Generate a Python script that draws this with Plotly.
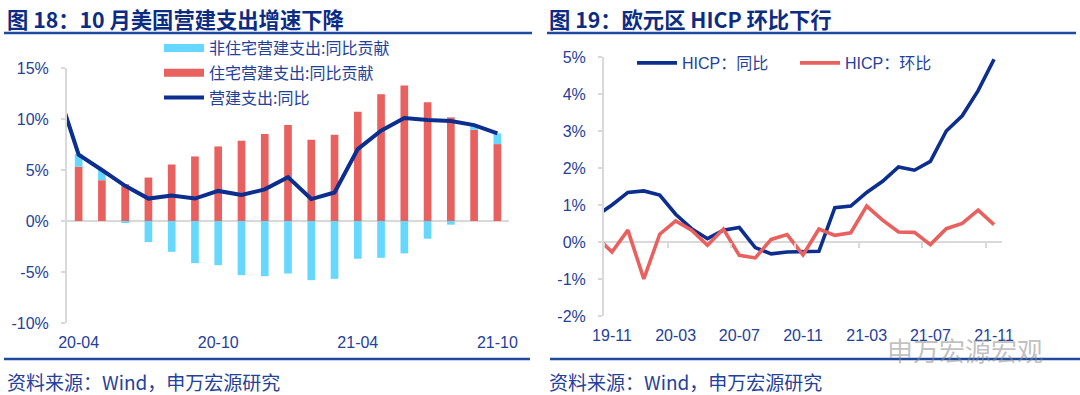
import plotly.graph_objects as go

W, H = 1080, 395

# ---------------- Left chart data (figure 18) ----------------
months_l = ["20-03", "20-04", "20-05", "20-06", "20-07", "20-08", "20-09", "20-10",
            "20-11", "20-12", "21-01", "21-02", "21-03", "21-04", "21-05", "21-06",
            "21-07", "21-08", "21-09", "21-10"]
bar_months = months_l[1:]
nonres_contrib = [1.25, 1.0, -0.15, -2.07, -3.02, -4.13, -4.33, -5.31, -5.41, -5.15,
                  -5.80, -5.67, -3.70, -3.61, -3.18, -1.74, -0.36, 0.40, 1.05]
res_contrib = [5.31, 4.0, 3.6, 4.26, 5.54, 6.33, 7.31, 7.87, 8.52, 9.41,
               7.97, 8.46, 10.72, 12.43, 13.28, 11.64, 10.16, 8.95, 7.54]
total_yoy = [13.5, 6.5, 5.0, 3.45, 2.2, 2.5, 2.2, 2.95, 2.55, 3.1,
             4.3, 2.15, 2.8, 7.05, 8.85, 10.1, 9.9, 9.8, 9.4, 8.6]
yticks_l = [-10, -5, 0, 5, 10, 15]

# ---------------- Right chart data (figure 19) ----------------
months_r = ["19-10", "19-11", "19-12", "20-01", "20-02", "20-03", "20-04", "20-05",
            "20-06", "20-07", "20-08", "20-09", "20-10", "20-11", "20-12", "21-01",
            "21-02", "21-03", "21-04", "21-05", "21-06", "21-07", "21-08", "21-09",
            "21-10", "21-11"]
hicp_yoy = [0.7, 1.0, 1.34, 1.38, 1.27, 0.75, 0.36, 0.09, 0.32, 0.39, -0.15, -0.32,
            -0.27, -0.27, -0.25, 0.93, 0.97, 1.34, 1.64, 2.03, 1.94, 2.18, 3.0, 3.41,
            4.09, 4.94]
hicp_mom = [0.15, -0.27, 0.32, -1.0, 0.21, 0.57, 0.32, -0.09, 0.35, -0.36, -0.43, 0.07,
            0.2, -0.35, 0.35, 0.18, 0.25, 0.97, 0.59, 0.27, 0.26, -0.07, 0.36, 0.5,
            0.86, 0.47]
yticks_r = [-2, -1, 0, 1, 2, 3, 4, 5]

# ---------------- styling ----------------
CYAN = "#66D8FF"
RED = "#E8615F"
NAVY = "#0B2E8F"
LABEL = "#24409A"
TITLE = "#0C2C84"
RULE = "#1E4AA0"
GRID = "#D9D9D9"
FONT = "'Liberation Sans', 'Noto Sans CJK SC', sans-serif"
CJK = "'Noto Sans CJK SC', sans-serif"


def px_x(v):
    return v / W


def px_y(v):
    return 1 - v / H


fig = go.Figure()

# legend proxies (wide swatches)
fig.add_trace(go.Scatter(x=[None], y=[None], mode="lines", name="非住宅营建支出:同比贡献",
                         line=dict(color=CYAN, width=8), legendgroup="a", hoverinfo="skip"))
fig.add_trace(go.Scatter(x=[None], y=[None], mode="lines", name="住宅营建支出:同比贡献",
                         line=dict(color=RED, width=8), legendgroup="b", hoverinfo="skip"))
# bars (residential first so it sits at the base of the stack)
fig.add_trace(go.Bar(x=bar_months, y=res_contrib, name="住宅营建支出:同比贡献",
                     marker=dict(color=RED, line=dict(width=0)), showlegend=False,
                     legendgroup="b", xaxis="x", yaxis="y"))
fig.add_trace(go.Bar(x=bar_months, y=nonres_contrib, name="非住宅营建支出:同比贡献",
                     marker=dict(color=CYAN, line=dict(width=0)), showlegend=False,
                     legendgroup="a", xaxis="x", yaxis="y"))
fig.add_trace(go.Scatter(x=months_l, y=total_yoy, mode="lines", name="营建支出:同比",
                         line=dict(color=NAVY, width=4), legendgroup="c",
                         xaxis="x", yaxis="y"))

# right chart lines
fig.add_trace(go.Scatter(x=months_r, y=hicp_yoy, mode="lines", name="HICP：同比",
                         line=dict(color=NAVY, width=3.6), legend="legend2",
                         xaxis="x2", yaxis="y2"))
fig.add_trace(go.Scatter(x=months_r, y=hicp_mom, mode="lines", name="HICP：环比",
                         line=dict(color=RED, width=3.6), legend="legend2",
                         xaxis="x3", yaxis="y2"))

tickfont = dict(family=FONT, size=16, color=LABEL)

yl_dom = [px_y(323), px_y(68)]
yr_dom = [px_y(316), px_y(57)]
zero_pos_r = yr_dom[0] + (yr_dom[1] - yr_dom[0]) * (0 - yticks_r[0]) / (yticks_r[-1] - yticks_r[0])

fig.update_layout(
    width=W, height=H,
    margin=dict(l=0, r=0, t=0, b=0, autoexpand=False),
    paper_bgcolor="white", plot_bgcolor="white",
    barmode="relative", bargap=0.67,
    font=dict(family=FONT, color=LABEL),
    xaxis=dict(domain=[px_x(67), px_x(509)], type="category", categoryorder="array",
               categoryarray=months_l, range=[0.5, len(months_l) - 0.5],
               tickmode="linear", tick0=1, dtick=6, ticks="outside", ticklen=5,
               tickcolor="rgba(0,0,0,0)", showline=False, showgrid=False,
               tickfont=tickfont, anchor="y", fixedrange=True, automargin=False),
    yaxis=dict(domain=yl_dom, range=[yticks_l[0], yticks_l[-1]], tickvals=yticks_l,
               ticktext=[f"{v}%" for v in yticks_l], showgrid=False, zeroline=True,
               zerolinecolor=GRID, zerolinewidth=2, showline=True, linecolor=GRID,
               linewidth=2, ticks="outside", ticklen=4, tickcolor=GRID, tickwidth=1.5,
               ticklabelstandoff=9, tickfont=tickfont, anchor="x", fixedrange=True,
               automargin=False),
    xaxis2=dict(domain=[px_x(604), px_x(1002)], type="category", categoryorder="array",
                categoryarray=months_r, range=[0.5, len(months_r) - 0.5],
                tickmode="linear", tick0=1, dtick=4, ticks="outside", ticklen=5,
                tickcolor="rgba(0,0,0,0)", showline=False, showgrid=False,
                tickfont=tickfont, anchor="y2", fixedrange=True, automargin=False),
    xaxis3=dict(type="category", categoryorder="array", categoryarray=months_r,
                range=[0.5, len(months_r) - 0.5], overlaying="x2", anchor="free",
                position=zero_pos_r, side="bottom", tickmode="linear", tick0=1, dtick=4,
                tickson="boundaries", ticks="outside", ticklen=5, tickcolor=GRID,
                tickwidth=1.5, showticklabels=False, showline=False, showgrid=False,
                fixedrange=True, automargin=False),
    yaxis2=dict(domain=yr_dom, range=[yticks_r[0], yticks_r[-1]], tickvals=yticks_r,
                ticktext=[f"{v}%" for v in yticks_r], showgrid=False, zeroline=True,
                zerolinecolor=GRID, zerolinewidth=2, showline=True, linecolor=GRID,
                linewidth=2, ticks="outside", ticklen=4, tickcolor=GRID, tickwidth=1.5,
                ticklabelstandoff=9, tickfont=tickfont, anchor="x2", fixedrange=True,
                automargin=False),
    legend=dict(x=px_x(159), y=px_y(31), xanchor="left", yanchor="top",
                bgcolor="rgba(0,0,0,0)", font=dict(family=CJK, size=16, color=LABEL),
                traceorder="grouped", tracegroupgap=1, itemwidth=40),
    legend2=dict(orientation="h", x=px_x(632), y=px_y(46), xanchor="left", yanchor="top",
                 bgcolor="rgba(0,0,0,0)", font=dict(family=FONT, size=16, color=LABEL),
                 itemwidth=40, entrywidth=108, entrywidthmode="pixels"),
    showlegend=True,
)

# titles
fig.add_annotation(text="<b>图 18：10 月美国营建支出增速下降</b>", x=px_x(5), y=px_y(18),
                   xref="paper", yref="paper", xanchor="left", yanchor="middle",
                   showarrow=False, font=dict(family=CJK, size=21.3, color=TITLE))
fig.add_annotation(text="<b>图 19：欧元区 HICP 环比下行</b>", x=px_x(547), y=px_y(18),
                   xref="paper", yref="paper", xanchor="left", yanchor="middle",
                   showarrow=False, font=dict(family=CJK, size=21.3, color=TITLE))
# footers
for x0 in (5, 547):
    fig.add_annotation(text="资料来源：Wind，申万宏源研究", x=px_x(x0), y=px_y(381),
                       xref="paper", yref="paper", xanchor="left", yanchor="middle",
                       showarrow=False, font=dict(family=CJK, size=19, color=LABEL))
# watermark
fig.add_annotation(text="申万宏源宏观", x=px_x(965), y=px_y(349), xref="paper", yref="paper",
                   xanchor="center", yanchor="middle", showarrow=False,
                   font=dict(family=CJK, size=26, color="rgba(140,140,140,0.55)"))

# title and bottom rules
for (a, b) in ((4, 532), (547, 1076)):
    fig.add_shape(type="line", xref="paper", yref="paper", x0=px_x(a), x1=px_x(b),
                  y0=px_y(33), y1=px_y(33), line=dict(color=RULE, width=2.5))
for (a, b) in ((4, 530), (550, 1080)):
    fig.add_shape(type="line", xref="paper", yref="paper", x0=px_x(a), x1=px_x(b),
                  y0=px_y(359), y1=px_y(359), line=dict(color=RULE, width=2.5))

fig.write_html("out.html", config={"displayModeBar": False},
               post_script="document.body.style.margin='0px';document.body.style.overflow='hidden';")
